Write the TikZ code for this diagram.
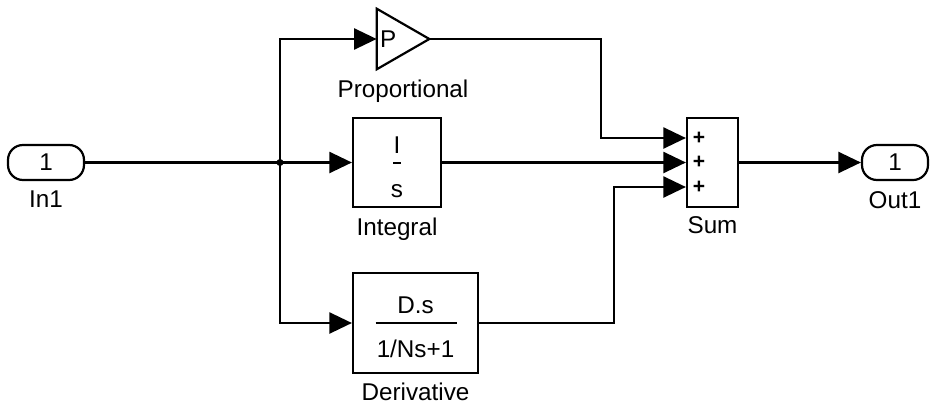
\documentclass[tikz,border=0pt]{standalone}
\usepackage{fontspec}
\setmainfont{Liberation Sans}
\usetikzlibrary{arrows.meta,positioning,calc}

\begin{document}
\begin{tikzpicture}[
        x=0.02cm, y=-0.02cm,
        font=\fontsize{13.8}{16}\selectfont,
        block/.style={
            draw=black,
            line width=1.25pt,
            inner sep=0pt
        },
        port/.style={
            block,
            rounded corners=8.5pt,
            minimum height=0.7cm
        },
        wire/.style={
            line width=1.25pt
        },
        signal/.style={
            -{Triangle[length=0.45cm, width=0.42cm]},
            line width=1.25pt
        },
        sign/.style={
            font=\fontsize{12}{13}\selectfont\bfseries,
            inner sep=0pt
        }
    ]

        \useasboundingbox (0,0) rectangle (930,409);

        % Ports
        \node[port, minimum width=1.52cm] (in1) at (46,162.5) {1};
        \node[port, minimum width=1.32cm] (out1) at (895,162.5) {1};

        % Blocks
        \node[minimum width=1.04cm, minimum height=1.2cm, inner sep=0pt] (prop) at (403,39) {};
        \draw[wire, line join=miter]
            (prop.north west)
            --
            (prop.east)
            --
            (prop.south west)
            -- cycle;
        \node[anchor=west, inner sep=0pt] (propGain) at ($(prop.west)+(3,0)$) {P};

        \node[block, minimum width=1.76cm, minimum height=1.78cm] (integral) at (397,162.5) {};
        \node[block, minimum width=2.5cm, minimum height=2cm] (deriv) at (415.5,323) {};
        \node[block, minimum width=1.02cm, minimum height=1.78cm] (sum) at (712.5,162.5) {};

        % Block contents
        \node[anchor=base, inner sep=0pt] (intNum) at ($(integral.center)+(0,-9.5)$) {I};
        \draw[wire] ($(integral.center)+(-4,0.5)$) -- ($(integral.center)+(4,0.5)$);
        \node[anchor=base, inner sep=0pt] (intDen) at ($(integral.center)+(0,34.5)$) {s};

        \node[anchor=base, inner sep=0pt] (derNum) at ($(deriv.center)+(0,-10)$) {D.s};
        \draw[wire] ($(deriv.center)+(-40,0)$) -- ($(deriv.center)+(41,0)$);
        \node[anchor=base, inner sep=0pt] (derDen) at ($(deriv.center)+(0,34)$) {1/Ns+1};

        \foreach \signName/\dy in {sA/-24.5, sB/0, sC/24.5}
        {
            \node[sign] (\signName) at ($(sum.west)+(13,\dy)$) {+};
        }

        % Labels
        \node[anchor=base] (in1Label) at ($(in1.center)+(0,44.5)$) {In1};
        \node[anchor=base] (out1Label) at ($(out1.center)+(0,45.5)$) {Out1};
        \node[anchor=base] (propLabel) at ($(prop.center)+(0,58)$) {Proportional};
        \node[anchor=base] (intLabel) at ($(integral.center)+(0,72.5)$) {Integral};
        \node[anchor=base] (derLabel) at ($(deriv.center)+(0,77)$) {Derivative};
        \node[anchor=base] (sumLabel) at ($(sum.center)+(0,70.5)$) {Sum};

        % Signal lines
        \coordinate (split) at (280,162.5);
        \coordinate (sumInA) at ($(sum.west)+(0,-24.5)$);
        \coordinate (sumInC) at ($(sum.west)+(0,24.5)$);

        \draw[wire] (in1) -- (split);
        \draw[signal] (split) -- (integral);
        \draw[signal] (split) |- (prop.west);
        \draw[signal] (split) |- (deriv.west);
        \fill (split) circle[radius=2pt];

        \draw[signal] (prop.east) -- ++(172,0) |- (sumInA);
        \draw[signal] (integral) -- (sum);
        \draw[signal] (deriv.east) -- ++(135,0) |- (sumInC);
        \draw[signal] (sum) -- (out1);

    \end{tikzpicture}
\end{document}
